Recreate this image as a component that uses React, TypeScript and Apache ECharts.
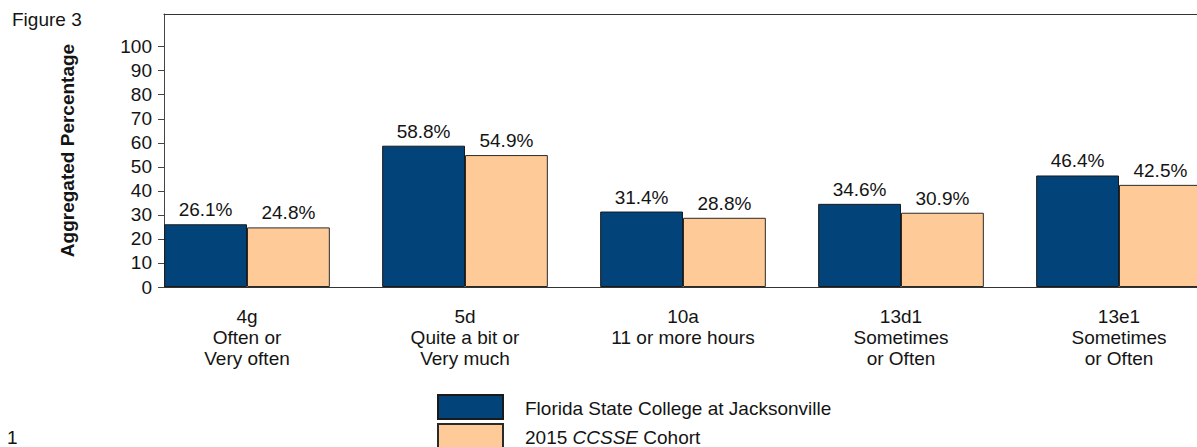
import React, { useEffect, useRef } from "react";
import * as echarts from "echarts";

const categories = [
  "4g\nOften or\nVery often",
  "5d\nQuite a bit or\nVery much",
  "10a\n11 or more hours",
  "13d1\nSometimes\nor Often",
  "13e1\nSometimes\nor Often",
];
const seriesNames = ["Florida State College at Jacksonville", "2015 CCSSE Cohort"];
const collegeValues = [26.1, 58.8, 31.4, 34.6, 46.4];
const cohortValues = [24.8, 54.9, 28.8, 30.9, 42.5];
const yTicks = [0, 10, 20, 30, 40, 50, 60, 70, 80, 90, 100];

const FONT = "'Liberation Sans', Arial, Helvetica, sans-serif";
const TXT = "#141414";
const FS = 19;

export default function App() {
  const ref = useRef<HTMLDivElement>(null);
  useEffect(() => {
    if (!ref.current) return;
    const chart = echarts.init(ref.current, null, { renderer: "svg" });
    const yMax = 113.6;
    const frameAxis = (pos: string) => ({
      gridIndex: 0,
      type: "value",
      min: 0,
      max: 1,
      position: pos,
      axisLine: { show: true, onZero: false, lineStyle: { color: "#333", width: 1 } },
      axisTick: { show: false },
      axisLabel: { show: false },
      splitLine: { show: false },
    });
    const labelFmt = (p: any) => Number(p.value).toFixed(1) + "%";
    chart.setOption({
      animation: false,
      textStyle: { fontFamily: FONT, color: TXT },
      grid: [
        { left: 164, top: 14, right: 2, bottom: 160 },
        { left: 138, top: 14, right: 2, bottom: 160 },
      ],
      xAxis: [
        frameAxis("bottom"),
        frameAxis("top"),
        {
          gridIndex: 1,
          type: "category",
          data: categories,
          axisLine: { show: false },
          axisTick: { show: false },
          axisLabel: {
            interval: 0,
            margin: 19,
            fontSize: FS,
            lineHeight: 21,
            color: TXT,
            fontFamily: FONT,
          },
          splitLine: { show: false },
        },
      ],
      yAxis: [
        {
          gridIndex: 0,
          type: "value",
          min: 0,
          max: yMax,
          axisLine: { show: true, onZero: false, lineStyle: { color: "#444", width: 1 } },
          axisTick: { show: true, length: 6, customValues: yTicks, lineStyle: { color: "#444" } },
          axisLabel: { customValues: yTicks, margin: 12, fontSize: FS, color: TXT, fontFamily: FONT },
          splitLine: { show: false },
        },
        { gridIndex: 1, type: "value", min: 0, max: yMax, show: false, splitLine: { show: false } },
      ],
      legend: {
        orient: "vertical",
        left: 437,
        bottom: -2,
        padding: 0,
        itemWidth: 65,
        itemHeight: 24,
        itemGap: 3,
        icon: "rect",
        data: seriesNames,
        formatter: (name: string) => (name === seriesNames[1] ? "2015 {i|CCSSE} Cohort" : name),
        textStyle: {
          fontSize: FS,
          lineHeight: 19,
          color: TXT,
          fontFamily: FONT,
          padding: [3, 0, 0, 17],
          rich: { i: { fontStyle: "italic", fontSize: FS, lineHeight: 19, color: TXT, fontFamily: FONT } },
        },
      },
      graphic: [
        {
          type: "text",
          x: 12,
          y: 19,
          style: { text: "Figure 3", fontSize: FS, fontFamily: FONT, fill: TXT, align: "left", verticalAlign: "middle" },
        },
        {
          type: "text",
          x: 67.5,
          y: 150.5,
          rotation: Math.PI / 2,
          style: {
            text: "Aggregated Percentage",
            fontSize: FS,
            fontWeight: "bold",
            fontFamily: FONT,
            fill: TXT,
            align: "center",
            verticalAlign: "middle",
          },
        },
        {
          type: "text",
          x: 7,
          y: 437,
          style: { text: "1", fontSize: FS, fontFamily: FONT, fill: TXT, align: "left", verticalAlign: "middle" },
        },
      ],
      series: [
        {
          type: "bar",
          name: seriesNames[0],
          xAxisIndex: 2,
          yAxisIndex: 1,
          data: collegeValues,
          barGap: "0%",
          barCategoryGap: "24%",
          itemStyle: { color: "#02437A", borderColor: "#1a1a1a", borderWidth: 1 },
          label: { show: true, position: "top", distance: 5, fontSize: FS, color: TXT, fontFamily: FONT, formatter: labelFmt },
        },
        {
          type: "bar",
          name: seriesNames[1],
          xAxisIndex: 2,
          yAxisIndex: 1,
          data: cohortValues,
          barGap: "0%",
          barCategoryGap: "24%",
          itemStyle: { color: "#FECB98", borderColor: "#2a2a2a", borderWidth: 1 },
          label: { show: true, position: "top", distance: 5, fontSize: FS, color: TXT, fontFamily: FONT, formatter: labelFmt },
        },
      ],
    });
    return () => chart.dispose();
  }, []);
  return (
    <div style={{ position: "fixed", left: 0, top: 0, width: "1197px", height: "447px", overflow: "hidden", background: "#fff" }}>
      <div ref={ref} style={{ width: "1230px", height: "447px" }} />
    </div>
  );
}
